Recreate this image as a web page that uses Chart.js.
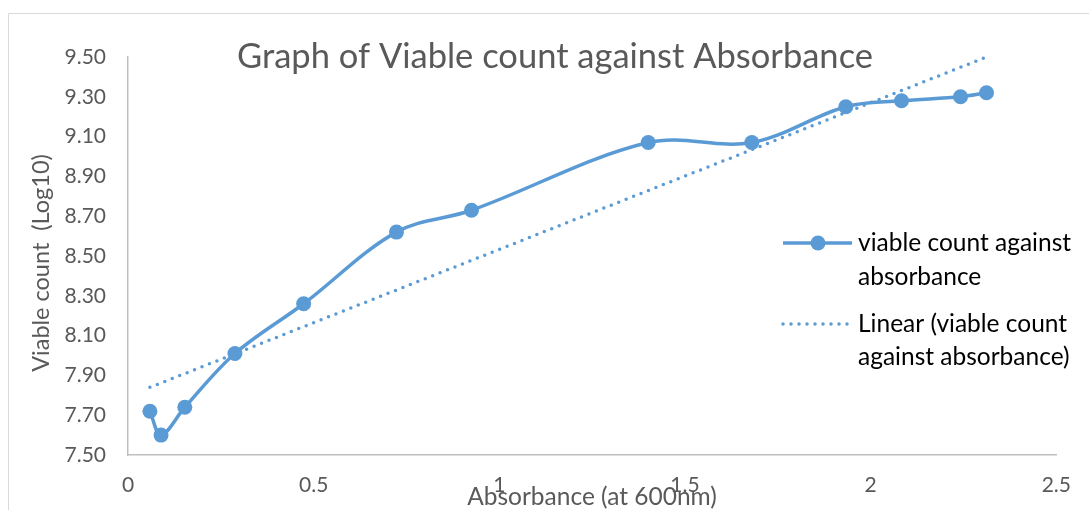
<!DOCTYPE html>
<html>
<head>
<meta charset="utf-8">
<script src="https://cdn.jsdelivr.net/npm/chart.js@4.4.1/dist/chart.umd.min.js"></script>
<style>
  html, body { margin: 0; padding: 0; background: #fff; }
  #wrap { position: relative; width: 1089px; height: 510px; }
</style>
</head>
<body>
<div id="wrap"><canvas id="chart" width="1089" height="510"></canvas></div>
<script>
// values
const absorbance = [0.059, 0.089, 0.153, 0.288, 0.473, 0.723, 0.925, 1.401, 1.680, 1.933, 2.083, 2.242, 2.312];
const viableCount = [7.72, 7.60, 7.74, 8.01, 8.26, 8.62, 8.73, 9.07, 9.07, 9.25, 9.28, 9.30, 9.32];
// linear trendline end points as drawn
const trendX = [0.059, 2.312];
const trendY = [7.84, 9.50];

const xTicks = [0, 0.5, 1, 1.5, 2, 2.5];
const yTicks = [7.5, 7.7, 7.9, 8.1, 8.3, 8.5, 8.7, 8.9, 9.1, 9.3, 9.5];

const chartTitle = 'Graph of Viable count against Absorbance';
const xTitle = 'Absorbance (at 600nm)';
const yTitle = 'Viable count  (Log10)';
const legendLabels = [
  ['viable count against', 'absorbance'],
  ['Linear (viable count', 'against absorbance)']
];

const BLUE = '#5b9bd5';
const GREY_TEXT = '#595959';
const FONT = 'Lato';

const extras = {
  id: 'extras',
  afterDraw(chart) {
    const ctx = chart.ctx;
    ctx.save();

    // outer chart border
    ctx.strokeStyle = '#d9d9d9';
    ctx.lineWidth = 1;
    ctx.beginPath();
    ctx.moveTo(8.5, 510);
    ctx.lineTo(8.5, 13.5);
    ctx.lineTo(1089, 13.5);
    ctx.stroke();

    // title
    ctx.fillStyle = GREY_TEXT;
    ctx.textAlign = 'center';
    ctx.textBaseline = 'middle';
    ctx.font = '34.5px ' + FONT;
    ctx.fillText(chartTitle, 555, 57);

    // axis titles
    ctx.font = '24.5px ' + FONT;
    ctx.fillText(xTitle, 592, 497);
    ctx.save();
    ctx.translate(41, 263);
    ctx.rotate(-Math.PI / 2);
    ctx.font = '23.5px ' + FONT;
    ctx.fillText(yTitle, 0, 0);
    ctx.restore();

    // legend
    ctx.textAlign = 'left';
    ctx.font = '24.5px ' + FONT;

    ctx.strokeStyle = BLUE;
    ctx.lineWidth = 3.5;
    ctx.beginPath();
    ctx.moveTo(783, 243);
    ctx.lineTo(852, 243);
    ctx.stroke();
    ctx.fillStyle = BLUE;
    ctx.beginPath();
    ctx.arc(818, 243, 7.5, 0, Math.PI * 2);
    ctx.fill();

    ctx.lineCap = 'round';
    ctx.setLineDash([0, 8]);
    ctx.beginPath();
    ctx.moveTo(783, 324);
    ctx.lineTo(850, 324);
    ctx.stroke();
    ctx.setLineDash([]);

    ctx.fillStyle = '#000';
    ctx.fillText(legendLabels[0][0], 858, 243);
    ctx.fillText(legendLabels[0][1], 858, 277);
    ctx.fillText(legendLabels[1][0], 858, 324);
    ctx.fillText(legendLabels[1][1], 858, 357);

    ctx.restore();
  }
};

new Chart(document.getElementById('chart'), {
  type: 'scatter',
  data: {
    datasets: [
      {
        label: 'Linear (viable count against absorbance)',
        data: trendX.map((x, i) => ({ x, y: trendY[i] })),
        showLine: true,
        borderColor: BLUE,
        borderWidth: 3.5,
        borderDash: [0, 8],
        borderCapStyle: 'round',
        pointRadius: 0,
        clip: false,
        order: 1
      },
      {
        label: 'viable count against absorbance',
        data: absorbance.map((x, i) => ({ x, y: viableCount[i] })),
        showLine: true,
        borderColor: BLUE,
        backgroundColor: BLUE,
        borderWidth: 3.5,
        tension: 0.35,
        pointRadius: 7.5,
        pointBackgroundColor: BLUE,
        pointBorderWidth: 0,
        order: 2
      }
    ]
  },
  options: {
    responsive: false,
    animation: false,
    layout: { padding: { left: 0, right: 31, top: 57, bottom: 0 } },
    plugins: {
      legend: { display: false },
      title: { display: false },
      tooltip: { enabled: false }
    },
    scales: {
      x: {
        type: 'linear',
        min: 0,
        max: 2.5,
        afterFit: s => { s.height = 55; },
        afterBuildTicks: s => { s.ticks = xTicks.map(v => ({ value: v })); },
        grid: { display: false, drawTicks: false },
        border: { display: true, color: '#bfbfbf', width: 1.5 },
        ticks: {
          padding: 18,
          color: GREY_TEXT,
          font: { family: FONT, size: 21 },
          callback: v => String(v)
        }
      },
      y: {
        type: 'linear',
        min: 7.5,
        max: 9.5,
        afterFit: s => { s.width = 128; },
        afterBuildTicks: s => { s.ticks = yTicks.map(v => ({ value: v })); },
        grid: { display: false, drawTicks: false },
        border: { display: true, color: '#bfbfbf', width: 1.5 },
        ticks: {
          padding: 22,
          color: GREY_TEXT,
          font: { family: FONT, size: 21 },
          callback: v => Number(v).toFixed(2)
        }
      }
    }
  },
  plugins: [extras]
});
</script>
</body>
</html>
